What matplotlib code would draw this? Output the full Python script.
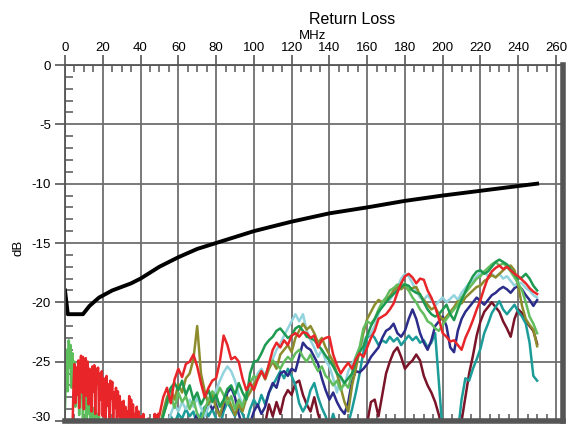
import numpy as np
import matplotlib
matplotlib.use("Agg")
import matplotlib.pyplot as plt
from matplotlib.ticker import MultipleLocator
from matplotlib.transforms import ScaledTranslation

plt.rcParams['font.family'] = ['Liberation Sans', 'DejaVu Sans']
plt.rcParams['axes.unicode_minus'] = False

# limit line
limit_f = [0, 1.5, 9.5, 13, 18, 25, 30, 35, 40, 50, 60, 70, 80, 90, 100,
           120, 140, 160, 180, 200, 220, 240, 250]
limit_db = [-19.0, -21.0, -21.0, -20.3, -19.6, -19.0, -18.7, -18.4, -18.0, -17.0,
            -16.2, -15.5, -15.0, -14.5, -14.0, -13.2, -12.5, -12.0, -11.45,
            -11.0, -10.6, -10.2, -10.0]

# low frequency noise, 0.5 MHz steps
red_lo_start = 4.0
red_lo = [-30.5, -27.0, -25.2, -28.5, -25.5, -27.8, -24.9, -28.9, -25.3, -24.5,
          -27.6, -24.6, -29.0, -25.4, -24.7, -27.9, -25.0, -28.6, -25.6, -26.2,
          -29.2, -25.4, -27.5, -25.3, -29.4, -25.6, -26.8, -25.5, -29.5, -26.0,
          -28.2, -25.8, -29.6, -26.4, -27.0, -29.8, -26.2, -28.7, -26.9, -29.9,
          -26.6, -28.1, -26.7, -30.0, -27.6, -28.9, -27.2, -30.2, -27.5, -29.6,
          -27.9, -30.5, -28.4, -29.7, -28.3, -30.5, -28.8, -30.4, -29.2, -30.5,
          -27.9, -29.9, -28.2, -30.5, -28.6, -30.5, -29.4, -30.5, -28.8, -30.5,
          -29.2, -30.5, -30.5, -29.6, -30.5, -29.4, -30.5, -31, -31, -31,
          -29.8, -31, -31, -31, -31, -31, -31, -29.4, -31, -29.5, -31, -29.4]
green_lo_start = 0.0
green_lo = [-29.0, -26.0, -24.0, -27.5, -23.2, -25.5, -23.6, -27.2, -24.3, -26.5,
            -25.0, -28.8, -25.8, -27.5, -26.2, -29.5, -26.5, -28.0, -27.0, -29.8,
            -27.5, -28.8, -27.6, -30.0, -28.0, -29.4, -28.3, -30.2, -28.5, -29.8,
            -28.9, -30.5, -29.2, -30.5, -29.4, -30.5, -29.6, -30.5]

# traces from 50 to 250 MHz, 2 MHz steps
freq = np.arange(50, 251, 2)

red = [-29.5, -28.0, -27.2, -28.5, -26.5, -25.6, -26.3, -25.2, -25.0, -24.4,
       -25.4, -26.8, -28.0, -27.2, -26.6, -26.4, -25.0, -22.8, -23.6, -24.8,
       -24.6, -25.0, -26.4, -27.4, -26.8, -27.4, -26.5, -25.8, -26.4, -25.2,
       -24.0, -23.4, -23.8, -23.2, -23.6, -22.8, -22.6, -22.9, -22.5, -22.6,
       -23.0, -22.8, -23.8, -23.2, -23.0, -22.9, -24.4, -25.3, -26.0, -25.5,
       -25.1, -25.6, -24.8, -24.3, -24.6, -23.8, -23.0, -22.4, -21.4, -21.2,
       -21.0, -20.6, -20.1, -19.2, -18.4, -17.8, -17.6, -17.9, -18.4, -18.0,
       -18.1, -19.0, -19.6, -20.4, -21.4, -22.6, -22.9, -23.3, -23.2, -23.6,
       -24.0, -23.0, -22.3, -21.5, -20.6, -19.8, -18.8, -17.9, -17.4, -17.1,
       -16.9, -17.2, -17.0, -17.3, -17.6, -17.8, -18.1, -18.4, -18.8, -19.1,
       -19.3]
olive = [-30.5, -29.2, -28.0, -27.3, -28.2, -26.9, -27.6, -26.4, -26.0, -24.8,
         -22.0, -26.0, -27.5, -28.6, -27.8, -28.9, -29.6, -28.4, -28.0, -28.7,
         -29.5, -28.6, -29.2, -28.1, -27.6, -26.9, -26.3, -25.8, -26.5, -25.6,
         -25.0, -25.6, -24.4, -24.0, -23.6, -24.2, -23.0, -22.4, -21.8, -22.3,
         -22.0, -22.6, -23.4, -23.0, -23.8, -24.4, -25.0, -26.0, -27.2, -28.4,
         -29.2, -27.0, -25.6, -24.0, -22.6, -21.4, -20.8, -20.2, -19.8, -20.0,
         -19.7, -19.5, -19.0, -18.7, -18.9, -18.6, -19.0, -18.8, -18.7, -19.4,
         -19.8, -20.2, -20.6, -20.4, -21.0, -21.5, -21.2, -20.8, -20.4, -19.9,
         -20.1, -19.6, -19.3, -19.0, -18.7, -18.6, -18.2, -18.0, -17.7, -17.9,
         -17.6, -17.3, -17.0, -16.9, -17.3, -18.6, -20.3, -21.4, -21.9, -22.3,
         -23.7]
light_green = [-30.5, -29.5, -28.6, -27.8, -28.9, -27.6, -28.4, -27.9, -29.0, -28.2,
               -29.4, -30.0, -29.0, -28.2, -27.5, -28.0, -27.2, -27.8, -28.6, -27.9,
               -29.0, -28.2, -28.8, -27.6, -26.8, -26.2, -26.5, -25.9, -26.2, -25.3,
               -24.9, -25.2, -25.6, -25.0, -24.6, -24.9, -24.3, -24.0, -24.6, -25.0,
               -24.4, -25.2, -25.8, -25.4, -26.2, -26.5, -27.0, -26.6, -27.4, -26.8,
               -27.2, -26.0, -24.6, -23.8, -22.2, -21.6, -21.8, -21.4, -20.6, -20.0,
               -19.6, -19.0, -18.8, -18.5, -18.6, -18.4, -19.0, -19.6, -20.0, -20.6,
               -21.0, -21.6, -21.8, -22.2, -22.4, -21.9, -21.4, -21.0, -20.6, -20.2,
               -19.6, -19.2, -18.8, -18.4, -18.0, -17.8, -17.4, -17.1, -16.8, -16.6,
               -16.9, -16.7, -17.0, -17.4, -17.9, -18.4, -19.0, -20.0, -21.2, -21.8,
               -22.6]
dark_green = [-30.5, -29.6, -28.4, -27.2, -26.8, -27.4, -26.6, -27.8, -27.0, -28.2,
              -27.6, -28.6, -28.0, -27.4, -28.4, -27.8, -28.8, -28.2, -27.3, -27.0,
              -27.8, -26.8, -27.6, -28.2, -26.0, -25.0, -24.9, -24.3, -23.6, -23.2,
              -22.9, -22.4, -22.2, -22.6, -23.0, -22.8, -22.2, -22.0, -22.4, -22.9,
              -23.0, -23.2, -23.6, -24.0, -24.5, -24.9, -25.4, -26.0, -26.3, -26.8,
              -26.4, -26.0, -25.0, -24.2, -23.7, -22.8, -22.0, -21.4, -20.8, -20.4,
              -20.0, -19.6, -19.3, -19.0, -18.7, -18.5, -18.6, -19.0, -19.2, -19.3,
              -20.0, -20.6, -21.0, -21.2, -21.0, -20.6, -20.2, -21.0, -21.5, -20.6,
              -19.8, -19.1, -18.4, -17.8, -17.4, -17.3, -17.6, -17.4, -17.0, -16.6,
              -16.4, -16.6, -16.8, -17.2, -17.6, -18.0, -17.9, -17.6, -18.0, -18.6,
              -19.0]
light_cyan = [-31, -31, -30.5, -29.4, -28.6, -29.2, -28.4, -29.0, -28.2, -28.8,
              -28.0, -28.9, -29.6, -28.8, -28.2, -27.4, -26.6, -25.9, -25.4, -25.8,
              -26.6, -27.8, -28.6, -28.2, -27.4, -26.8, -26.0, -25.6, -26.2, -25.4,
              -24.8, -24.0, -23.5, -22.8, -22.2, -21.6, -21.0, -21.6, -21.0, -22.4,
              -23.2, -23.8, -24.6, -24.0, -24.9, -25.4, -26.4, -27.6, -26.2, -27.0,
              -25.8, -25.2, -24.6, -23.8, -23.2, -22.8, -22.6, -22.0, -21.0, -20.0,
              -19.6, -19.8, -19.3, -18.8, -18.0, -17.6, -17.8, -18.4, -19.0, -19.6,
              -19.8, -19.4, -19.8, -20.3, -19.9, -19.6, -20.0, -19.7, -19.4, -19.8,
              -19.2, -18.8, -18.4, -18.2, -17.8, -17.5, -17.4, -17.8, -17.6, -17.9,
              -17.6, -18.0, -17.8, -18.2, -18.6, -18.3, -18.4, -18.8, -19.0, -19.4,
              -19.6]
teal = [-31, -31, -30.5, -29.6, -30.2, -29.4, -29.8, -29.0, -29.6, -29.2,
        -30.4, -29.4, -28.8, -29.6, -29.0, -29.8, -30.5, -29.2, -28.4, -29.0,
        -29.6, -28.8, -29.4, -30.2, -29.0, -28.2, -28.8, -27.8, -28.6, -27.6,
        -27.0, -26.4, -25.8, -26.4, -25.6, -26.2, -27.0, -28.5, -29.2, -28.6,
        -27.4, -26.8, -28.0, -28.9, -29.6, -30.5, -29.4, -30.5, -31, -31,
        -30.2, -29.0, -27.6, -26.0, -24.2, -23.0, -22.6, -23.0, -23.6, -23.2,
        -23.4, -22.9, -23.3, -23.0, -23.6, -23.2, -22.8, -23.2, -22.9, -23.4,
        -23.2, -23.8, -23.4, -22.6, -26.8, -31, -31, -31, -31, -31,
        -28.2, -26.4, -26.6, -25.6, -24.8, -23.9, -22.6, -21.8, -20.9, -20.4,
        -19.9, -20.6, -21.0, -20.6, -20.2, -20.8, -21.2, -21.8, -23.4, -26.2,
        -26.6]
navy = [-31, -31, -31, -31, -31, -31, -31, -31, -31, -30.2,
        -29.4, -30.5, -29.2, -28.4, -29.0, -28.6, -29.6, -28.8, -27.6, -27.2,
        -28.0, -29.4, -30.5, -31, -30.2, -29.2, -28.6, -29.4, -28.8, -27.6,
        -26.8, -27.2, -26.0, -25.8, -26.2, -25.6, -25.8, -24.6, -23.4, -23.8,
        -24.0, -24.6, -25.2, -26.4, -27.4, -28.2, -27.6, -28.4, -29.0, -29.4,
        -28.4, -26.6, -25.8, -25.9, -25.6, -25.2, -24.6, -24.2, -23.8, -23.0,
        -22.4, -22.2, -21.8, -22.6, -22.9, -22.4, -21.4, -20.6, -21.4, -22.6,
        -23.4, -24.0, -23.2, -22.0, -21.6, -21.2, -22.0, -23.8, -24.2, -22.4,
        -21.4, -20.8, -20.4, -20.0, -19.6, -19.9, -20.2, -19.8, -19.4, -19.2,
        -18.9, -18.7, -18.9, -19.2, -18.8, -18.6, -18.9, -19.4, -19.8, -20.3,
        -19.8]
maroon = ([-31] * 28 +
          [-30.2, -28.6, -29.6, -28.4, -29.4, -28.0, -27.4, -27.8, -26.8, -26.6,
           -27.8, -28.6, -29.2, -28.0, -29.4, -30.4] +
          [-31] * 11 +
          [-30.2, -28.4, -28.2, -29.6, -27.8, -26.0, -25.0, -24.2, -23.8, -24.6,
           -25.6, -25.2, -24.9, -24.4, -24.9, -26.2, -27.0, -27.6, -28.4, -29.5] +
          [-31] * 5 +
          [-30.0, -28.0, -26.0, -24.5, -22.8, -21.6, -20.8, -20.4, -20.0, -20.4,
           -20.8, -21.6, -22.2, -22.9, -21.4, -20.6, -20.9, -21.6, -22.0, -22.4,
           -23.5])

fig = plt.figure(figsize=(5.74, 4.25), dpi=100)
ax = fig.add_axes([65 / 574, 4 / 425, 498 / 574, 356 / 425])

lw = 1.8
ax.plot(np.arange(len(green_lo)) * 0.5 + green_lo_start, green_lo, color='#5cbf5c', lw=1.8)
ax.plot(np.arange(len(red_lo)) * 0.5 + red_lo_start, red_lo, color='#e8262a', lw=1.8)
ax.plot(freq, maroon, color='#7a1428', lw=lw)
ax.plot(freq, teal, color='#1b9c98', lw=lw)
ax.plot(freq, navy, color='#2c2c8a', lw=lw)
ax.plot(freq, light_cyan, color='#92d3dd', lw=lw)
ax.plot(freq, olive, color='#8c8c2c', lw=lw)
ax.plot(freq, light_green, color='#62bd5e', lw=lw)
ax.plot(freq, dark_green, color='#1d9a50', lw=lw)
ax.plot(freq, red, color='#e8262a', lw=lw)
ax.plot(limit_f, limit_db, color='black', lw=2.8)

ax.set_xlim(0, 263.7)
ax.set_ylim(-30, 0)
ax.xaxis.set_major_locator(MultipleLocator(20))
ax.xaxis.set_minor_locator(MultipleLocator(5))
ax.yaxis.set_major_locator(MultipleLocator(5))
ax.yaxis.set_minor_locator(MultipleLocator(1))

ax.grid(which='major', color='#6e6e6e', lw=1.3)
ax.set_axisbelow(True)

ax.tick_params(axis='x', which='major', top=True, bottom=False, labeltop=True,
               labelbottom=False, direction='out', length=7, width=1.2,
               color='#555555', labelsize=9.5, pad=1)
ax.tick_params(axis='x', which='minor', top=True, bottom=True, direction='in',
               length=5, width=1.1, color='#555555')
ax.tick_params(axis='y', which='major', left=True, direction='out', length=7,
               width=1.2, color='#555555', labelsize=9.5, pad=3)
ax.tick_params(axis='y', which='minor', left=True, direction='in', length=6,
               width=1.1, color='#555555')

for side in ['top', 'left']:
    ax.spines[side].set_color('#555555')
    ax.spines[side].set_linewidth(1.3)
for side in ['right', 'bottom']:
    ax.spines[side].set_color('#555555')
    ax.spines[side].set_linewidth(4)

# lift the bottom "-30" label a touch so it stays inside the picture
fig.canvas.draw()
for tick in ax.yaxis.get_major_ticks():
    if abs(tick.get_loc() + 30) < 1e-6:
        tick.label1.set_transform(tick.label1.get_transform()
                                  + ScaledTranslation(0, 3 / 72, fig.dpi_scale_trans))

fig.text(352 / 574, 1 - 19 / 425, 'Return Loss', ha='center', va='center', fontsize=11.5)
fig.text(313 / 574, 1 - 36 / 425, 'MHz', ha='center', va='center', fontsize=9.5)
fig.text(19 / 574, 1 - 248 / 425, 'dB', ha='center', va='center', rotation=90, fontsize=9.5)

fig.savefig('out.png', dpi=100)
